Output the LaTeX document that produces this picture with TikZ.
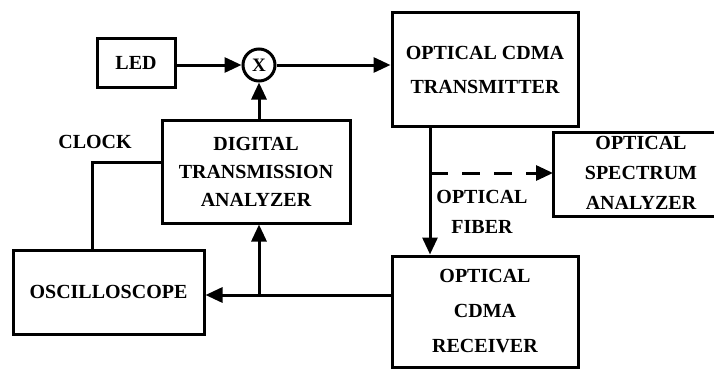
\documentclass[tikz,border=0pt]{standalone}
\usepackage{fontspec}
\setmainfont{Liberation Serif}
\usetikzlibrary{arrows.meta}
\tikzset{
  blk/.style={draw, line width=3pt, inner sep=0pt, align=center, font=\bfseries\fontsize{20}{29}\selectfont},
  lbl/.style={inner sep=0pt, align=center, font=\bfseries\fontsize{20}{30}\selectfont},
  conn/.style={line width=3pt},
  arr/.style={line width=3pt, -{Triangle[length=17pt,width=15pt]}},
}
\begin{document}
\begin{tikzpicture}[x=1pt,y=-1pt]
\useasboundingbox (0,0) rectangle (714,369);
\node[blk, minimum width=78pt, minimum height=48pt] (led) at (136,63) {LED};
\node[draw, circle, line width=3pt, minimum size=32pt, inner sep=0pt, font=\bfseries\fontsize{19}{19}\selectfont] (mult) at (259,65) {X};
\node[blk, minimum width=186pt, minimum height=113pt, font=\bfseries\fontsize{20}{34}\selectfont] (tx) at (485,69.5) {OPTICAL CDMA\\TRANSMITTER};
\node[blk, minimum width=188pt, minimum height=103pt, font=\bfseries\fontsize{20}{28}\selectfont] (dta) at (256,171.5) {DIGITAL\\TRANSMISSION\\ANALYZER};
\node[blk, minimum width=191pt, minimum height=84pt] (osc) at (108.5,292) {OSCILLOSCOPE};
\node[blk, minimum width=186pt, minimum height=111pt, font=\bfseries\fontsize{20}{35}\selectfont] (rx) at (485,311.5) {OPTICAL\\CDMA\\RECEIVER};
% spectrum analyzer box (cut at right edge)
\draw[line width=3pt] (716,132) -- (553,132) -- (553,216) -- (716,216);
\node[lbl] (osa) at (641,173) {OPTICAL\\SPECTRUM\\ANALYZER};
\coordinate (osaw) at (553,173);
\node[lbl] (clk) at (95,142) {CLOCK};
\node[lbl] (fib) at (482,212) {OPTICAL\\FIBER};
% connectors
\draw[arr] (led.east |- mult) -- (mult.west);
\draw[arr] (mult.east) -- (tx.west |- mult);
\coordinate (j) at (259,295);
\draw[arr] (j) -- (dta.south -| j);
\draw[arr] (dta.north -| mult) -- (mult.south);
\draw[arr] (rx.west |- j) -- (osc.east |- j);
\coordinate (ck) at (92,162);
\draw[conn] (dta.west |- ck) -- (ck) -- (osc.north -| ck);
\coordinate (fx) at (430,173);
\draw[arr] (tx.south -| fx) -- (rx.north -| fx);
\draw[line width=3pt, dash pattern=on 18pt off 14pt, -{Triangle[length=17pt,width=15pt]}] (fx) -- (osaw);
\end{tikzpicture}
\end{document}
